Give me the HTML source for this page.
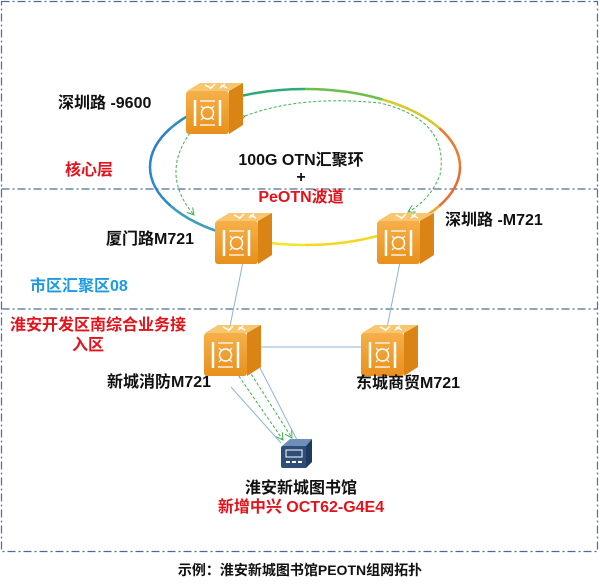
<!DOCTYPE html>
<html><head><meta charset="utf-8"><style>
body{margin:0;width:600px;height:588px;background:#fff;overflow:hidden}
svg{display:block}
text{font-family:"Liberation Sans","Noto Sans CJK SC",sans-serif;font-weight:bold}
</style></head><body>
<svg width="600" height="588" viewBox="0 0 600 588" xmlns="http://www.w3.org/2000/svg">
<defs>
<linearGradient id="fr" x1="0" y1="0" x2="0" y2="1"><stop offset="0" stop-color="#f6b04a"/><stop offset="1" stop-color="#e8901c"/></linearGradient>
<marker id="ah" markerWidth="8" markerHeight="8" refX="7" refY="4" orient="auto" markerUnits="userSpaceOnUse"><path d="M0,0 L7,4 L0,8" fill="none" stroke="#3cb54a" stroke-width="1"/></marker>
<g id="cube">
<polygon points="2,9 15,1 58,1 44,9" fill="#f8c66e"/>
<polygon points="44,9 58,1 58,43 44,52" fill="#d98414"/>
<rect x="1" y="9" width="43" height="43" rx="3" fill="url(#fr)"/>
<path d="M20,3 l6,3 M30,2 l-5,5 M36,3 l6,3 M40,2 l-5,4" stroke="#fff" stroke-width="1.5"/>
<path d="M10,18 v26 M35,18 v26" stroke="#fff" stroke-width="2.5"/>
<path d="M15,19 h15 M15,43 h15" stroke="#fff" stroke-width="1.2"/>
<circle cx="22.5" cy="31" r="6" fill="none" stroke="#fff" stroke-width="1.5"/>
<path d="M16,24 l3,3 M29,24 l-3,3 M16,38 l3,-3 M29,38 l-3,-3" stroke="#fff" stroke-width="1.2"/>
</g>
</defs>
<rect x="1.5" y="1.5" width="596" height="550" fill="none" stroke="#4a6f9a" stroke-width="1.2" stroke-dasharray="8,3,2,3"/>
<line x1="1.5" y1="189" x2="597.5" y2="189" stroke="#4a6f9a" stroke-width="1.2" stroke-dasharray="8,3,2,3"/>
<line x1="1.5" y1="309" x2="597.5" y2="309" stroke="#4a6f9a" stroke-width="1.2" stroke-dasharray="8,3,2,3"/>
<g fill="none" stroke-width="2.5">
<path d="M460,167 A155,78 0 0 1 439.2,206" stroke="#ec6a32"/>
<path d="M439.2,206 A155,78 0 0 1 382.5,234.5" stroke="#f2a826"/>
<path d="M382.5,234.5 A155,78 0 0 1 305,245" stroke="#f3d81e"/>
<path d="M305,245 A155,78 0 0 1 227.5,234.5" stroke="#f0e62a"/>
<path d="M227.5,234.5 A155,78 0 0 1 170.8,206" stroke="#3a9fb8"/>
<path d="M170.8,206 A155,78 0 0 1 150,167" stroke="#2a86cc"/>
<path d="M150,167 A155,78 0 0 1 170.8,128" stroke="#2a82cc"/>
<path d="M170.8,128 A155,78 0 0 1 227.5,99.5" stroke="#2a90b8"/>
<path d="M227.5,99.5 A155,78 0 0 1 305,89" stroke="#30a878"/>
<path d="M305,89 A155,78 0 0 1 382.5,99.5" stroke="#6cbf48"/>
<path d="M382.5,99.5 A155,78 0 0 1 439.2,128" stroke="#d8c830"/>
<path d="M439.2,128 A155,78 0 0 1 460,167" stroke="#ec7a30"/>
</g>
<g fill="none" stroke="#3cb54a" stroke-width="1" stroke-dasharray="3,2">
<path d="M190,133 Q160,175 194,215" marker-start="url(#ah)" marker-end="url(#ah)"/>
<path d="M245,116 Q300,95 380,103 Q450,120 440,175 Q430,200 408,212" marker-start="url(#ah)" marker-end="url(#ah)"/>
<path d="M236,372 L283,440" marker-start="url(#ah)" marker-end="url(#ah)"/>
<path d="M246,366 L292,438" marker-start="url(#ah)" marker-end="url(#ah)"/>
</g>
<g stroke="#8fb3d9" stroke-width="1">
<line x1="243" y1="262" x2="230" y2="326"/>
<line x1="400" y1="262" x2="387" y2="328"/>
<line x1="260" y1="347" x2="362" y2="347"/>
<line x1="231" y1="387" x2="281" y2="443"/>
<line x1="257" y1="362" x2="297" y2="440"/>
</g>
<use href="#cube" x="185" y="82"/>
<use href="#cube" x="214" y="212"/>
<use href="#cube" x="376" y="212"/>
<use href="#cube" x="203" y="324"/>
<use href="#cube" x="360" y="324"/>
<g transform="translate(280,438)">
<polygon points="2,8 10,1 32,1 26,8" fill="#6d8fb8"/>
<rect x="1" y="8" width="26" height="22" rx="2" fill="#2e4e78"/>
<polygon points="26,8 32,1 32,24 26,30" fill="#1e3a60"/>
<rect x="6" y="12" width="16" height="7" fill="none" stroke="#fff" stroke-width="1"/>
<path d="M6,24 h4 M12,24 h4 M18,24 h4" stroke="#fff" stroke-width="2"/>
</g>
<g font-size="16" fill="#111">
<text x="58" y="108">深圳路 -9600</text>
<text x="106" y="244">厦门路M721</text>
<text x="445" y="225">深圳路 -M721</text>
<text x="301" y="165" text-anchor="middle">100G OTN汇聚环</text>
<text x="301" y="182" text-anchor="middle">+</text>
<text x="107" y="387">新城消防M721</text>
<text x="356" y="388">东城商贸M721</text>
<text x="301" y="493" text-anchor="middle">淮安新城图书馆</text>
<text x="300" y="575" text-anchor="middle" font-size="14">示例：淮安新城图书馆PEOTN组网拓扑</text>
</g>
<g font-size="16" fill="#e3131b">
<text x="65" y="175">核心层</text>
<text x="301" y="202" text-anchor="middle">PeOTN波道</text>
<text x="10" y="330">淮安开发区南综合业务接</text>
<text x="88" y="350" text-anchor="middle">入区</text>
<text x="301" y="512" text-anchor="middle">新增中兴 OCT62-G4E4</text>
</g>
<text x="30" y="291" font-size="16" fill="#1e9be0">市区汇聚区08</text>
</svg>
</body></html>
